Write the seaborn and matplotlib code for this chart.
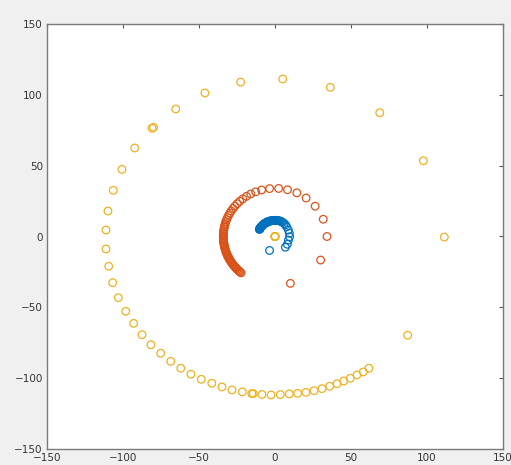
import numpy as np
import pandas as pd
import matplotlib
matplotlib.use("Agg")
import matplotlib.pyplot as plt
import seaborn as sns

# ---- data ----
# blue series: small circle, polar readings (degrees, radius)
blue_theta = [-110, -48, -34, -16, -1, 13.6, 27.6, 42, 50, 57, 63, 68, 72.5, 76.5,
              80, 83.5, 87, 90, 93, 96, 99, 101.5, 104, 106.5, 109, 111.5, 114, 116,
              118, 120, 122, 124, 126, 128, 130, 132, 134, 136, 138, 140, 141.5, 143,
              144.5, 146, 147.5, 149, 150.5, 152, 153, 154]
blue_r = [10.5, 10.2, 9.8, 9.2, 9.6, 9.7, 9.9, 10.3, 10.7, 11.0, 11.2, 11.3] + \
         [11.4] * (len(blue_theta) - 12)

# red series: medium circle, polar readings (degrees, radius)
red_theta = [-73, -29, 0, 21, 39, 53, 65, 76, 86, 96, 105, 112, 118, 123.5, 128.5,
             133, 137, 141, 144.5, 148, 151, 154, 157, 159.5, 162, 164.5, 167, 169,
             171, 173, 175, 177, 179, 181, 182.5, 184, 185.5, 187, 188.5, 190, 191.5,
             193, 194.5, 196, 197.5, 199, 200.5, 202, 203.5, 205, 206.5, 208, 209.5,
             211, 212.5, 214, 215.5, 217, 218.5, 220, 221.5, 223, 224.5, 226, 227.5, 229]
red_r = [34.6, 34.3, 34.2] + [34.0] * (len(red_theta) - 3)

# yellow series: large circle, x/y readings
yellow_x = [111.4, 97.6, 68.9, 36.4, 5.1, -22.6, -46.1, -65.3, -80.9, -79.9, -92.3,
            -100.7, -106.4, -109.9, -111.2, -111.2, -109.4, -106.8, -103.1, -98.2,
            -93.0, -87.5, -81.6, -75.2, -68.6, -62.0, -55.3, -48.5, -41.6, -34.9,
            -28.3, -21.5, -15.3, -14.3, -8.6, -2.6, 3.5, 9.4, 14.9, 20.4, 25.7, 30.9,
            36.0, 40.8, 45.2, 49.5, 53.9, 58.1, 61.8, 87.3]
yellow_y = [-0.4, 53.5, 87.4, 105.3, 111.2, 109.0, 101.3, 90.0, 76.4, 77.1, 62.5,
            47.4, 32.6, 18.0, 4.6, -8.8, -21.0, -32.6, -43.2, -52.8, -61.3, -69.3,
            -76.4, -82.4, -88.1, -93.0, -97.2, -100.8, -103.6, -106.2, -108.3,
            -109.7, -110.9, -110.9, -111.5, -111.9, -111.6, -111.1, -110.7, -110.0,
            -108.8, -107.4, -105.7, -103.9, -102.0, -100.1, -97.7, -95.6, -93.0, -69.7]
# yellow points at the origin
center_x = [0, 0, 0, 0, 0]
center_y = [0, 0, 0, 0, 0]

ticks = [-150, -100, -50, 0, 50, 100, 150]
colors = {"blue": "#0072BD", "red": "#D95319", "yellow": "#EDB120"}

# ---- build frames ----
bt = np.deg2rad(blue_theta)
blue_df = pd.DataFrame({"x": np.array(blue_r) * np.cos(bt), "y": np.array(blue_r) * np.sin(bt)})
rt = np.deg2rad(red_theta)
red_df = pd.DataFrame({"x": np.array(red_r) * np.cos(rt), "y": np.array(red_r) * np.sin(rt)})
yellow_df = pd.DataFrame({"x": yellow_x + center_x, "y": yellow_y + center_y})

sns.set_style("white")
fig = plt.figure(figsize=(5.11, 4.65), dpi=100, facecolor="#f0f0f0")
ax = fig.add_axes([47 / 511, 16 / 465, 456 / 511, 425 / 465])
ax.set_facecolor("white")

kw = dict(marker="o", s=30, linewidth=0.9, legend=False, ax=ax)
for df, key in [(blue_df, "blue"), (red_df, "red"), (yellow_df, "yellow")]:
    sns.scatterplot(data=df, x="x", y="y", facecolors="none", edgecolors=colors[key], **kw)

ax.set_xlim(-150, 150)
ax.set_ylim(-150, 150)
ax.set_xticks(ticks)
ax.set_yticks(ticks)
ax.set_xlabel("")
ax.set_ylabel("")
ax.tick_params(direction="in", top=True, right=True, length=3, width=0.8,
               color="#555555", labelcolor="#333333", labelsize=7.5, pad=3)
for sp in ax.spines.values():
    sp.set_color("#7a7a7a")
    sp.set_linewidth(1.0)

fig.savefig("out.png", dpi=100, facecolor=fig.get_facecolor())
